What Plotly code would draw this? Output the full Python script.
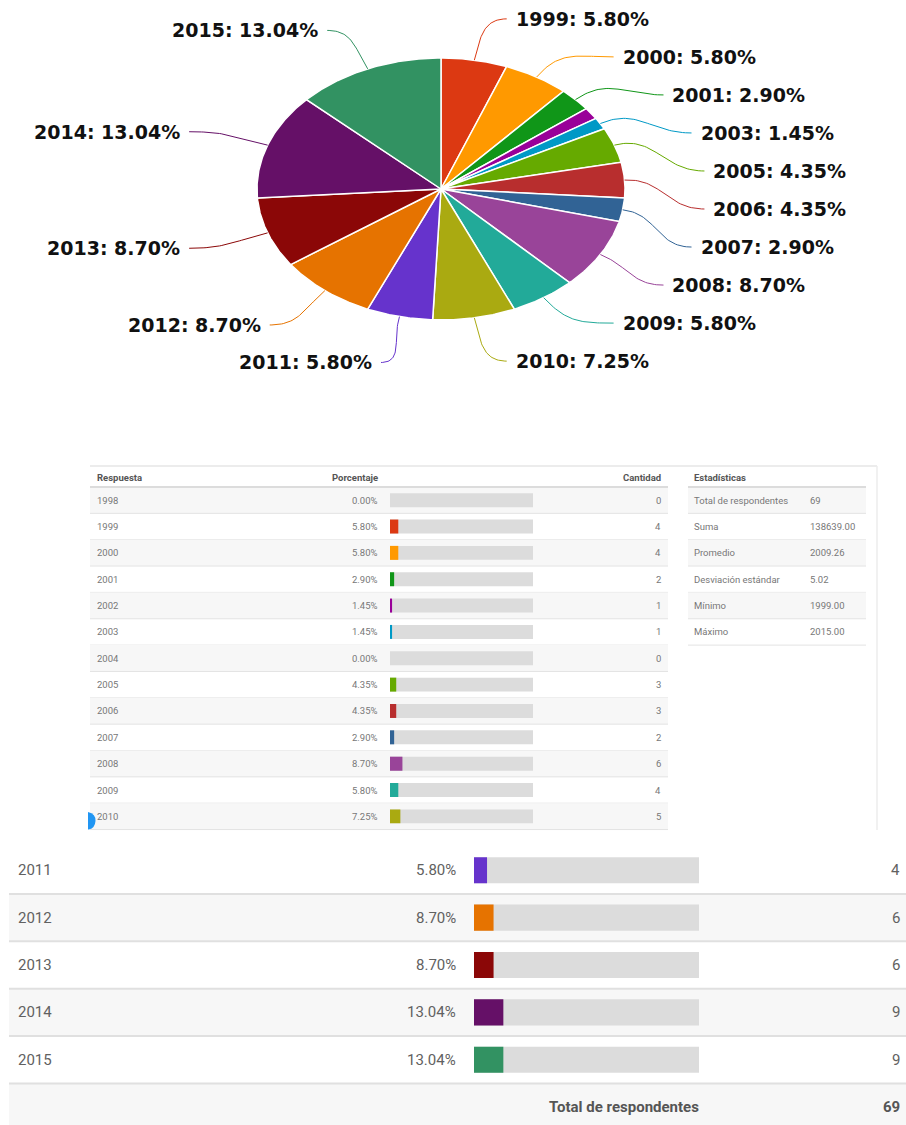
import numpy as np
import plotly.graph_objects as go

# ---------------- data ----------------
years = ["1998", "1999", "2000", "2001", "2002", "2003", "2004", "2005", "2006",
         "2007", "2008", "2009", "2010", "2011", "2012", "2013", "2014", "2015"]
counts = [0, 4, 4, 2, 1, 1, 0, 3, 3, 2, 6, 4, 5, 4, 6, 6, 9, 9]
colors = ["#3366CC", "#DC3912", "#FF9900", "#109618", "#990099", "#0099C6", "#DD4477",
          "#66AA00", "#B82E2E", "#316395", "#994499", "#22AA99", "#AAAA11", "#6633CC",
          "#E67300", "#8B0707", "#651067", "#329262"]
hidden_labels = ["2002"]
mid_years = years[:13]      # first table section
big_years = years[13:]      # enlarged table section

total = sum(counts)
pcts = [c / total * 100 for c in counts]
yr_num = np.array([int(y) for y in years])
cnt = np.array(counts)
s_sum = float((yr_num * cnt).sum())
s_mean = s_sum / total
s_std = float(np.sqrt(((yr_num - s_mean) ** 2 * cnt).sum() / total))
present = yr_num[cnt > 0]
stat_labels = ["Total de respondentes", "Suma", "Promedio", "Desviación estándar", "Mínimo", "Máximo"]
stat_values = [f"{total}", f"{s_sum:.2f}", f"{s_mean:.2f}", f"{s_std:.2f}",
               f"{present.min():.2f}", f"{present.max():.2f}"]

# ---------------- layout constants ----------------
W, H = 906, 1125
CX, CY, RX, RY = 441, 189, 184, 131          # pie ellipse
LCX, LCY, LA, LB = 440, 190, 275, 178        # label ellipse (x placement)
LBY = 174                                    # vertical projection radius for labels
GAP = 37.5
PAD = 2                                      # annotation inner padding compensation

fig = go.Figure()

# ---------------- pie (elliptical) ----------------
slices = []
acc = 0.0
for y, c, col, p in zip(years, counts, colors, pcts):
    if c == 0:
        continue
    a0 = acc / total * 2 * np.pi
    acc += c
    a1 = acc / total * 2 * np.pi
    t = np.linspace(a0, a1, max(3, int((a1 - a0) / 0.01)))
    xs = np.concatenate([[CX], CX + RX * np.sin(t), [CX]])
    ys = np.concatenate([[CY], CY - RY * np.cos(t), [CY]])
    fig.add_trace(go.Scatter(x=xs, y=ys, mode="lines", fill="toself", fillcolor=col,
                             line=dict(color="white", width=1.5), hoverinfo="skip",
                             showlegend=False, xaxis="x", yaxis="y"))
    slices.append(dict(year=y, col=col, pct=p, mid=(a0 + a1) / 2))

# label placement
labeled = [s for s in slices if s["year"] not in hidden_labels]
right = [s for s in labeled if s["mid"] < np.pi]
left = [s for s in labeled if s["mid"] >= np.pi]
for s in labeled:
    s["ly"] = LCY - LBY * np.cos(s["mid"])

right.sort(key=lambda s: s["mid"])
crowded = any(right[i]["ly"] - right[i - 1]["ly"] < GAP for i in range(1, len(right)))
if crowded and len(right) > 1:
    y0, y1 = right[0]["ly"], right[-1]["ly"]
    for i, s in enumerate(right):
        s["ly"] = y0 + (y1 - y0) * i / (len(right) - 1)
left.sort(key=lambda s: -s["mid"])
for i in range(1, len(left)):
    left[i]["ly"] = max(left[i]["ly"], left[i - 1]["ly"] + GAP)

tt = np.linspace(0, 1, 40)
for s in labeled:
    side = 1 if s["mid"] < np.pi else -1
    dy = (s["ly"] - LCY) / LB
    lx = LCX + side * LA * np.sqrt(max(0.0, 1 - dy * dy))
    m = s["mid"]
    p0 = np.array([CX + RX * np.sin(m), CY - RY * np.cos(m)])
    p3 = np.array([lx - side * 9, s["ly"]])
    d = np.linalg.norm(p3 - p0)
    dirv = np.array([RX * np.sin(m), -RY * np.cos(m)])
    dirv = dirv / np.linalg.norm(dirv)
    p1 = p0 + dirv * d * 0.45
    p2 = p3 - np.array([side * d * 0.45, 0])
    bx = ((1 - tt) ** 3) * p0[0] + 3 * ((1 - tt) ** 2) * tt * p1[0] + 3 * (1 - tt) * tt ** 2 * p2[0] + tt ** 3 * p3[0]
    by = ((1 - tt) ** 3) * p0[1] + 3 * ((1 - tt) ** 2) * tt * p1[1] + 3 * (1 - tt) * tt ** 2 * p2[1] + tt ** 3 * p3[1]
    fig.add_trace(go.Scatter(x=bx, y=by, mode="lines", line=dict(color=s["col"], width=1),
                             hoverinfo="skip", showlegend=False, xaxis="x", yaxis="y"))
    fig.add_annotation(x=lx - side * PAD, y=s["ly"], xref="x", yref="y", showarrow=False,
                       text=f"<b>{s['year']}: {s['pct']:.2f}%</b>",
                       xanchor="left" if side == 1 else "right", yanchor="middle",
                       font=dict(family="DejaVu Sans", size=19, color="#111111"))

shapes = []
annots = []

# ---------------- middle table ----------------
M_TOP, M_HEAD_B, M_PITCH = 466, 487, 26.35
M_X0, M_X1 = 90, 668
S_X0, S_X1 = 688, 866
small = dict(family="Roboto", size=9.5, color="#777777")
smallb = dict(family="Roboto", size=9.5, color="#555555")

def mrow_c(i):
    return M_HEAD_B + M_PITCH * (i + 0.5)

for i in range(len(mid_years)):
    top = M_HEAD_B + M_PITCH * i
    if i % 2 == 0:
        shapes.append(dict(type="rect", xref="x", yref="y", x0=M_X0, x1=M_X1, y0=top, y1=top + M_PITCH,
                           fillcolor="#f7f7f7", line=dict(width=0), layer="below"))
    shapes.append(dict(type="line", xref="x", yref="y", x0=M_X0, x1=M_X1, y0=top + M_PITCH, y1=top + M_PITCH,
                       line=dict(color="#e3e3e3", width=1), layer="below"))
for i in range(len(stat_labels)):
    top = M_HEAD_B + M_PITCH * i
    if i % 2 == 0:
        shapes.append(dict(type="rect", xref="x", yref="y", x0=S_X0, x1=S_X1, y0=top, y1=top + M_PITCH,
                           fillcolor="#f7f7f7", line=dict(width=0), layer="below"))
    shapes.append(dict(type="line", xref="x", yref="y", x0=S_X0, x1=S_X1, y0=top + M_PITCH, y1=top + M_PITCH,
                       line=dict(color="#e3e3e3", width=1), layer="below"))
# header lines / frame
shapes.append(dict(type="line", xref="x", yref="y", x0=M_X0, x1=877, y0=M_TOP, y1=M_TOP,
                   line=dict(color="#e6e6e6", width=1.5), layer="below"))
shapes.append(dict(type="line", xref="x", yref="y", x0=M_X0, x1=M_X1, y0=M_HEAD_B, y1=M_HEAD_B,
                   line=dict(color="#dcdcdc", width=2), layer="below"))
shapes.append(dict(type="line", xref="x", yref="y", x0=S_X0, x1=S_X1, y0=M_HEAD_B, y1=M_HEAD_B,
                   line=dict(color="#dcdcdc", width=2), layer="below"))
shapes.append(dict(type="line", xref="x", yref="y", x0=877, x1=877, y0=M_TOP, y1=830,
                   line=dict(color="#ececec", width=1.5), layer="below"))
# blue partial dot
shapes.append(dict(type="path", xref="x", yref="y",
                   path="M 88 812 Q 96 814 95.5 821 Q 95 828 89 829.5 L 88 829.5 Z",
                   fillcolor="#2196F3", line=dict(width=0)))

hy = (M_TOP + M_HEAD_B) / 2 + 1
annots += [
    dict(x=97 - PAD, y=hy, text="<b>Respuesta</b>", xanchor="left", font=smallb),
    dict(x=378 + PAD, y=hy, text="<b>Porcentaje</b>", xanchor="right", font=smallb),
    dict(x=661 + PAD, y=hy, text="<b>Cantidad</b>", xanchor="right", font=smallb),
    dict(x=694 - PAD, y=hy, text="<b>Estadísticas</b>", xanchor="left", font=smallb),
]
for i, y in enumerate(mid_years):
    k = years.index(y)
    yc = mrow_c(i)
    annots += [
        dict(x=97 - PAD, y=yc, text=y, xanchor="left", font=small),
        dict(x=378 + PAD, y=yc, text=f"{pcts[k]:.2f}%", xanchor="right", font=small),
        dict(x=661 + PAD, y=yc, text=str(counts[k]), xanchor="right", font=small),
    ]
for i, (lab, val) in enumerate(zip(stat_labels, stat_values)):
    yc = mrow_c(i)
    annots += [
        dict(x=694 - PAD, y=yc, text=lab, xanchor="left", font=small),
        dict(x=810 - PAD, y=yc, text=val, xanchor="left", font=small),
    ]

# ---------------- enlarged table ----------------
B_TOP, B_PITCH = 846.5, 47.4
B_X0, B_X1 = 9, 906
big = dict(family="Roboto", size=15, color="#616161")
bigb = dict(family="Roboto", size=15, color="#555555")
for i in range(len(big_years) + 1):
    top = B_TOP + B_PITCH * i
    if i % 2 == 1:
        shapes.append(dict(type="rect", xref="x", yref="y", x0=B_X0, x1=B_X1, y0=top, y1=top + B_PITCH,
                           fillcolor="#f7f7f7", line=dict(width=0), layer="below"))
    if i > 0:
        shapes.append(dict(type="line", xref="x", yref="y", x0=B_X0, x1=B_X1, y0=top, y1=top,
                           line=dict(color="#e0e0e0", width=2), layer="below"))
for i, y in enumerate(big_years):
    k = years.index(y)
    yc = B_TOP + B_PITCH * (i + 0.5)
    annots += [
        dict(x=18 - PAD, y=yc, text=y, xanchor="left", font=big),
        dict(x=456 + PAD, y=yc, text=f"{pcts[k]:.2f}%", xanchor="right", font=big),
        dict(x=900 + PAD, y=yc, text=str(counts[k]), xanchor="right", font=big),
    ]
yc = B_TOP + B_PITCH * (len(big_years) + 0.5)
annots += [
    dict(x=699 + PAD, y=yc, text="<b>Total de respondentes</b>", xanchor="right", font=bigb),
    dict(x=900 + PAD, y=yc, text=f"<b>{total}</b>", xanchor="right", font=bigb),
]
for a in annots:
    a.update(xref="x", yref="y", showarrow=False, yanchor="middle")
    fig.add_annotation(**a)

# ---------------- bars (through their own axes) ----------------
mi = [years.index(y) for y in mid_years]
fig.add_trace(go.Bar(y=list(range(len(mid_years))), x=[100] * len(mid_years), orientation="h",
                     width=0.53, marker=dict(color="#dcdcdc", line=dict(width=0)),
                     xaxis="x2", yaxis="y2", hoverinfo="skip", showlegend=False))
fig.add_trace(go.Bar(y=list(range(len(mid_years))), x=[pcts[k] for k in mi], orientation="h",
                     width=0.53, marker=dict(color=[colors[k] for k in mi], line=dict(width=0)),
                     xaxis="x2", yaxis="y2", hoverinfo="skip", showlegend=False))
bi = [years.index(y) for y in big_years]
fig.add_trace(go.Bar(y=list(range(len(big_years))), x=[100] * len(big_years), orientation="h",
                     width=0.55, marker=dict(color="#dcdcdc", line=dict(width=0)),
                     xaxis="x3", yaxis="y3", hoverinfo="skip", showlegend=False))
fig.add_trace(go.Bar(y=list(range(len(big_years))), x=[pcts[k] for k in bi], orientation="h",
                     width=0.55, marker=dict(color=[colors[k] for k in bi], line=dict(width=0)),
                     xaxis="x3", yaxis="y3", hoverinfo="skip", showlegend=False))

hid = dict(visible=False, fixedrange=True, showgrid=False, zeroline=False)
m_bot = M_HEAD_B + M_PITCH * len(mid_years)
b_bot = B_TOP + B_PITCH * len(big_years)
fig.update_layout(
    width=W, height=H, margin=dict(l=0, r=0, t=0, b=0),
    paper_bgcolor="white", plot_bgcolor="rgba(0,0,0,0)",
    barmode="overlay", showlegend=False,
    xaxis=dict(domain=[0, 1], range=[0, W], **hid),
    yaxis=dict(domain=[0, 1], range=[H, 0], **hid),
    xaxis2=dict(domain=[390 / W, 533 / W], range=[0, 100], anchor="y2", **hid),
    yaxis2=dict(domain=[1 - m_bot / H, 1 - M_HEAD_B / H], range=[len(mid_years) - 0.5, -0.5], anchor="x2", **hid),
    xaxis3=dict(domain=[474 / W, 699 / W], range=[0, 100], anchor="y3", **hid),
    yaxis3=dict(domain=[1 - b_bot / H, 1 - B_TOP / H], range=[len(big_years) - 0.5, -0.5], anchor="x3", **hid),
    shapes=shapes,
)

fig.write_html("out.html", config={"displayModeBar": False},
               post_script="document.body.style.margin='0px';document.body.style.overflow='hidden';")
